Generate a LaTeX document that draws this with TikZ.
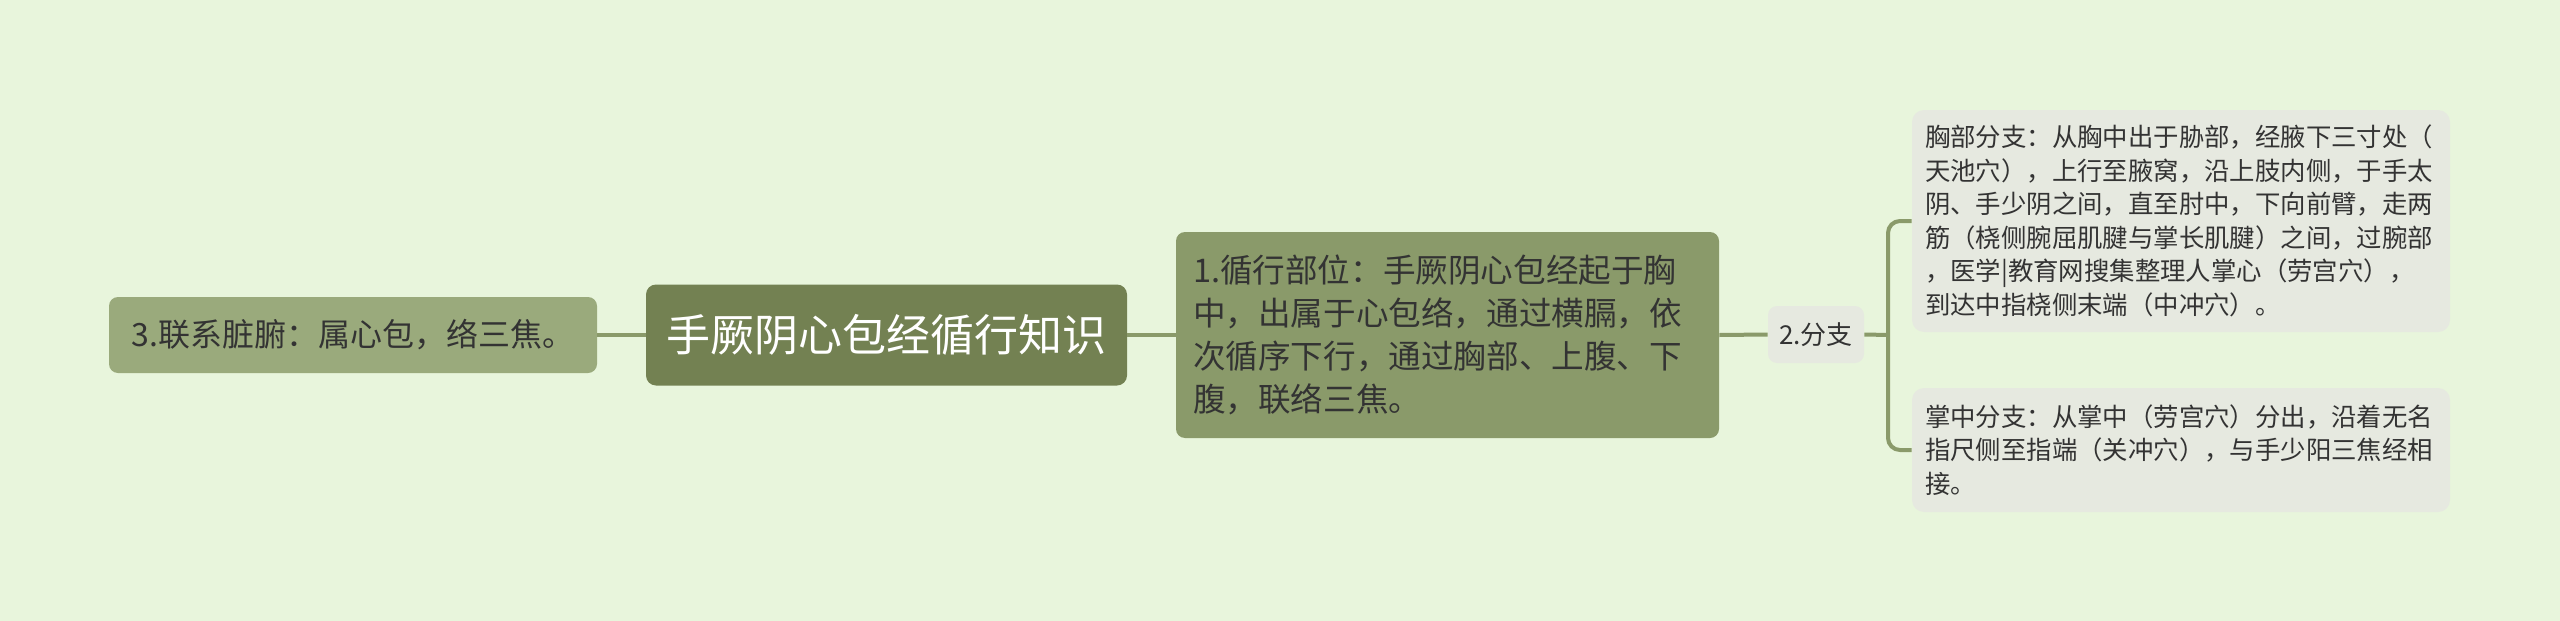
\documentclass[tikz,border=0pt]{standalone}
\usepackage{fontspec}
\newfontfamily\cjk{Noto Sans CJK SC}
\definecolor{bg}{HTML}{E8F5DC}
\definecolor{rootc}{HTML}{738152}
\definecolor{lvone}{HTML}{8A9A6A}
\definecolor{lvthree}{HTML}{9AAA7C}
\definecolor{leafc}{HTML}{E6E9E0}
\definecolor{linec}{HTML}{8A9A6A}
\definecolor{txt}{HTML}{333333}
\begin{document}
\begin{tikzpicture}[x=0.5pt,y=-0.5pt,
  box/.style={inner sep=0pt, text=txt, font=\cjk},
  rootbox/.style={box, fill=rootc, rounded corners=5pt, text=white,
    minimum width=240.5pt, minimum height=50.5pt,
    font=\cjk\fontsize{22}{26}\selectfont},
  sidebox/.style={box, fill=lvthree, rounded corners=4.5pt,
    minimum width=244pt, minimum height=38pt,
    font=\cjk\fontsize{16}{20}\selectfont},
  mainbox/.style={box, fill=lvone, rounded corners=4.5pt,
    inner xsep=8.5pt, text width=254.5pt, align=left, minimum height=103pt,
    font=\cjk\fontsize{16.3}{21.5}\selectfont},
  branchbox/.style={box, fill=leafc, rounded corners=4.5pt,
    minimum width=48pt, minimum height=28.5pt,
    font=\cjk\fontsize{13}{16}\selectfont},
  leafbox/.style={box, fill=leafc, rounded corners=6pt,
    inner xsep=6.5pt, text width=256pt, align=left,
    font=\cjk\fontsize{12.7}{16.75}\selectfont},
  conn/.style={draw=linec, line width=2pt},
]
\useasboundingbox (0,0) rectangle (2560,621);
\fill[bg] (0,0) rectangle (2560,621);

\node[sidebox] (side) at (353,335) {3.联系脏腑：属心包，络三焦。};
\node[rootbox] (root) at (886.5,335) {手厥阴心包经循行知识};
\node[mainbox] (main) at (1447.5,335) {1.循行部位：手厥阴心包经起于胸\\中，出属于心包络，通过横膈，依\\次循序下行，通过胸部、上腹、下\\腹，联络三焦。};
\node[branchbox] (branch) at (1816,334.5) {2.分支};
\node[leafbox, minimum height=111pt] (leafa) at (2181,221) {胸部分支：从胸中出于胁部，经腋下三寸处（\\天池穴），上行至腋窝，沿上肢内侧，于手太\\阴、手少阴之间，直至肘中，下向前臂，走两\\筋（桡侧腕屈肌腱与掌长肌腱）之间，过腕部\\，医学|教育网搜集整理人掌心（劳宫穴），\\到达中指桡侧末端（中冲穴）。};
\node[leafbox, minimum height=62pt] (leafb) at (2181,450) {掌中分支：从掌中（劳宫穴）分出，沿着无名\\指尺侧至指端（关冲穴），与手少阳三焦经相\\接。};

\coordinate (bx) at (1888,335);
\draw[conn] (side.east) -- (root.west);
\draw[conn] (root.east) -- (main.west);
\draw[conn] (main.east) -- (branch.west);
\draw[conn] (branch.east) -- (bx);
\draw[conn, rounded corners=6pt] (leafa.west) -- (leafa.west -| bx) -- (leafb.west -| bx) -- (leafb.west);
\end{tikzpicture}
\end{document}
